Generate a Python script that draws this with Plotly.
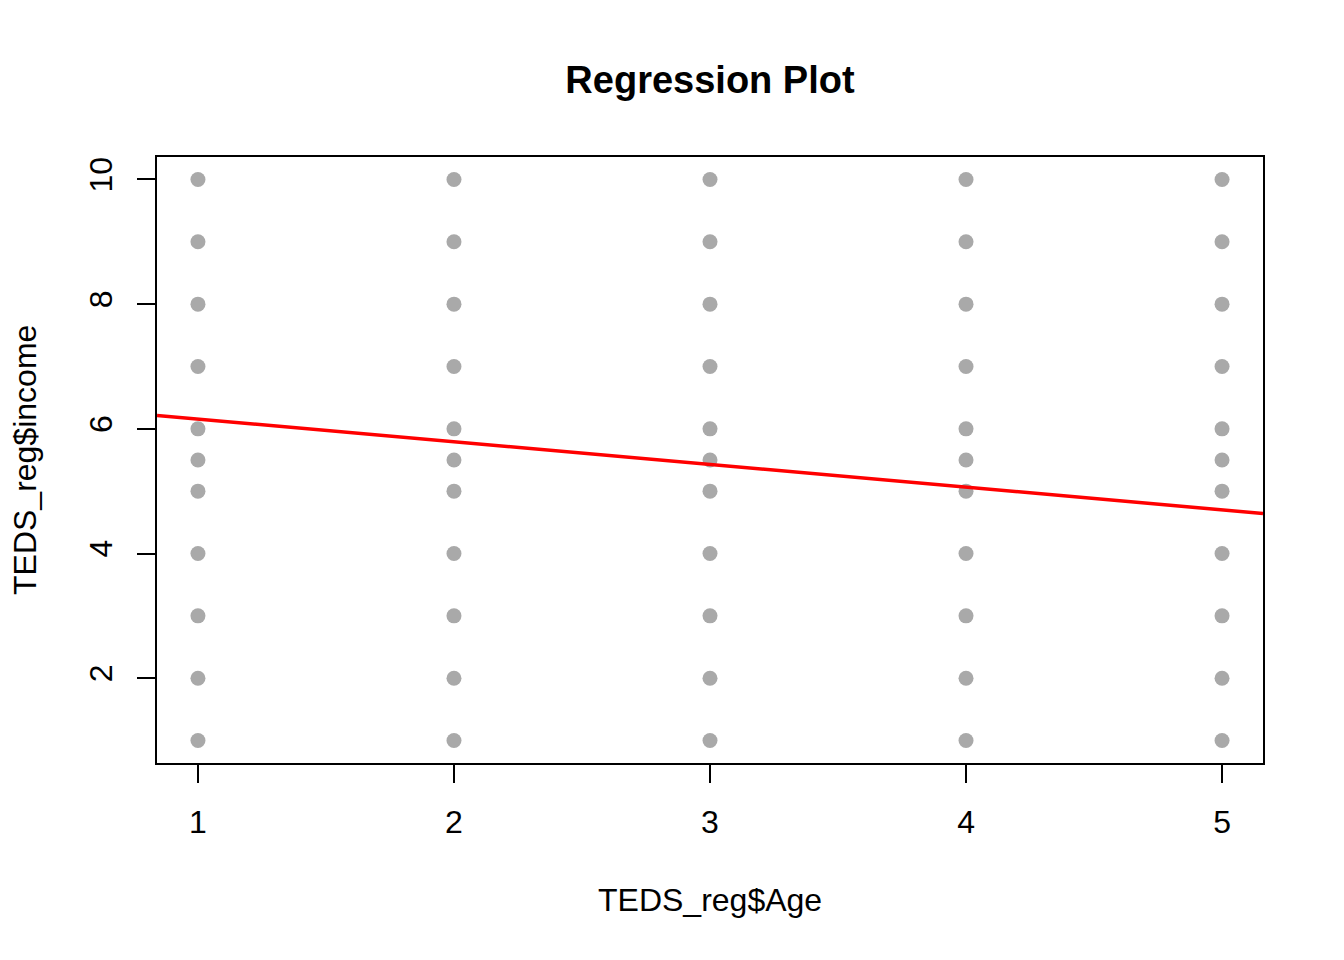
import plotly.graph_objects as go

# Data
age_levels = [1, 2, 3, 4, 5]
income_levels = [1, 2, 3, 4, 5, 5.5, 6, 7, 8, 9, 10]
reg_intercept = 6.52
reg_slope = -0.364
x_ticks = [1, 2, 3, 4, 5]
y_ticks = [2, 4, 6, 8, 10]

x_range = [0.84, 5.16]
y_range = [0.64, 10.36]

px_x = [a for a in age_levels for _ in income_levels]
px_y = [v for _ in age_levels for v in income_levels]

line_x = x_range
line_y = [reg_intercept + reg_slope * xv for xv in line_x]

FONT = "Liberation Sans, Arial, sans-serif"

fig = go.Figure()
fig.add_trace(go.Scatter(
    x=px_x, y=px_y, mode="markers",
    marker=dict(color="#A9A9A9", size=15, line=dict(width=0)),
    hoverinfo="skip", showlegend=False,
))
fig.add_trace(go.Scatter(
    x=line_x, y=line_y, mode="lines",
    line=dict(color="#FF0000", width=3.5),
    hoverinfo="skip", showlegend=False, cliponaxis=True,
))

axis_common = dict(
    showgrid=False, zeroline=False,
    showline=True, linecolor="black", linewidth=2, mirror=True,
    ticks="outside", ticklen=18, tickwidth=2, tickcolor="black",
    tickfont=dict(family=FONT, size=32, color="black"),
    ticklabelstandoff=12,
)

fig.update_layout(
    width=1344, height=960,
    paper_bgcolor="white", plot_bgcolor="white",
    margin=dict(l=149, r=89, t=149, b=205),
    title=dict(text="<b>Regression Plot</b>", x=0.5, xref="paper",
               y=1 - 72 / 960, yref="container", yanchor="middle", xanchor="center",
               font=dict(family=FONT, size=38, color="black")),
    xaxis=dict(range=x_range, tickvals=x_ticks, ticktext=[str(v) for v in x_ticks],
               **axis_common),
    yaxis=dict(range=y_range, tickvals=y_ticks, ticktext=[str(v) for v in y_ticks],
               tickangle=-90, **axis_common),
    annotations=[
        dict(text="TEDS_reg$Age", xref="paper", yref="paper", x=0.5, y=-(900 - 763) / 606,
             xanchor="center", yanchor="middle", showarrow=False,
             font=dict(family=FONT, size=32, color="black")),
        dict(text="TEDS_reg$income", xref="paper", yref="paper", x=-(157 - 25) / 1106, y=0.5,
             xanchor="center", yanchor="middle", showarrow=False, textangle=-90,
             font=dict(family=FONT, size=32, color="black")),
    ],
)

fig.write_html("out.html")
